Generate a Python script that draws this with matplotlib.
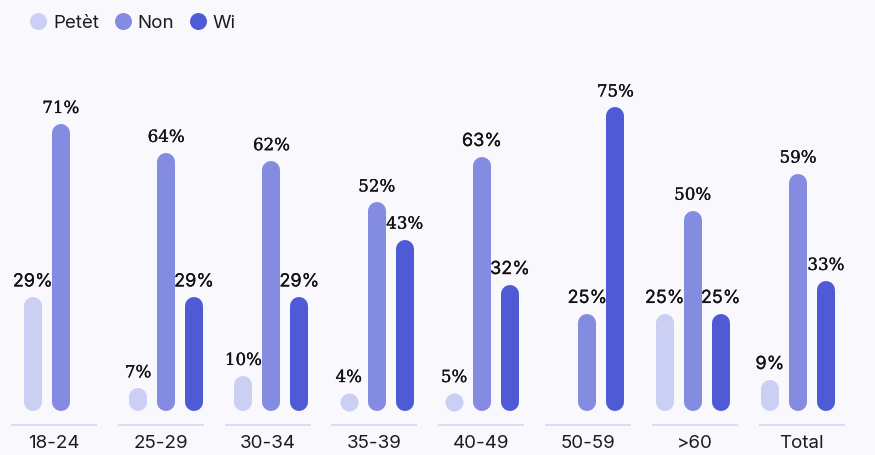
import matplotlib
matplotlib.use('Agg')
import matplotlib.pyplot as plt
from matplotlib.lines import Line2D
import matplotlib.transforms as mtransforms
import matplotlib.patheffects as pe

# ---------------- data ----------------
categories = ['18-24', '25-29', '30-34', '35-39', '40-49', '50-59', '>60', 'Total']
series = ['Petèt', 'Non', 'Wi']
petet = [29, 7, 10, 4, 5, None, 25, 9]
non = [71, 64, 62, 52, 63, 25, 50, 59]
wi = [None, 29, 29, 43, 32, 75, 25, 33]
values = [petet, non, wi]
colors = ['#cacff3', '#848ce2', '#4f5bd5']
# font used for each value label in the reference
label_fonts = [
    ['sans', 'serif', 'serif', 'serif', 'serif', None, 'sans', 'sans'],
    ['serif', 'serif', 'serif', 'serif', 'sans', 'sans', 'serif', 'serif'],
    [None, 'sans', 'sans', 'serif', 'sans', 'serif', 'sans', 'serif'],
]

# ---------------- figure ----------------
W, H, DPI = 875, 456, 100
bg = '#f8f8fd'
fig = plt.figure(figsize=(W / DPI, H / DPI), dpi=DPI)
fig.patch.set_facecolor(bg)
ax = fig.add_axes([0, 0, 1, 1])
ax.set_facecolor(bg)
ax.axis('off')

GROUP_PX = 106.8      # pixel distance between groups
X0_PX = 54            # pixel x of first group
ax.set_xlim(-X0_PX / GROUP_PX, (W - X0_PX) / GROUP_PX)
PX_PER_PCT = 4.13
BASE = 1.5
BASE_PX = 412
ax.set_ylim(BASE - (H - BASE_PX) / PX_PER_PCT, BASE + BASE_PX / PX_PER_PCT)

BAR_PX = 18
bar_lw = BAR_PX * 72 / DPI
r = (BAR_PX / 2) / PX_PER_PCT
min_h = BAR_PX / PX_PER_PCT
bar_step = 28 / GROUP_PX
bar_scale = 0.986
bar_shift = 0.063

fonts = {'serif': ['DejaVu Serif'], 'sans': ['Inter', 'DejaVu Sans']}
sizes = {'serif': 12, 'sans': 13}
effects = {'serif': [pe.withStroke(linewidth=0.2, foreground='#111111')],
           'sans': [pe.withStroke(linewidth=0.15, foreground='#111111')]}

for k, vals in enumerate(values):
    for i, v in enumerate(vals):
        if v is None:
            continue
        x = bar_shift + bar_scale * i + (k - 1) * bar_step
        top = max(v, BASE + min_h)
        if top - BASE > min_h + 1e-9:
            ax.plot([x, x], [BASE + r, top - r], color=colors[k], lw=bar_lw,
                    solid_capstyle='round', zorder=2)
        else:
            ax.plot([x], [BASE + r], marker='o', markersize=bar_lw,
                    color=colors[k], markeredgewidth=0, zorder=2)
        f = label_fonts[k][i]
        ax.annotate(f'{v}%', (x, top), xytext=(0, 11 * 72 / DPI),
                    textcoords='offset points', ha='center', va='baseline',
                    fontsize=sizes[f], family=fonts[f],
                    color='#111111', zorder=3, path_effects=effects[f])

trans = mtransforms.blended_transform_factory(ax.transData, ax.transAxes)
half = 43 / GROUP_PX
for i, c in enumerate(categories):
    ax.plot([i - half, i + half], [1 - 426 / H] * 2, color='#d8daf6', lw=1.3,
            transform=trans, solid_capstyle='butt', zorder=1)
    ax.text(i, 1 - 443.5 / H, c, transform=trans, ha='center', va='center',
            fontsize=13.5, family=['Inter', 'DejaVu Sans'], color='#1c1c1c')

handles = [Line2D([], [], marker='o', linestyle='none', markersize=17 * 72 / DPI,
                  markerfacecolor=col, markeredgewidth=0) for col in colors]
leg = ax.legend(handles, series, loc='upper left',
                bbox_to_anchor=(29.5 / W, 1 - 15 / H), bbox_transform=fig.transFigure,
                ncol=3, frameon=False, borderpad=0, borderaxespad=0,
                handlelength=0.93, handletextpad=0.32, columnspacing=0.8,
                prop={'family': ['Inter', 'DejaVu Sans'], 'size': 13.5})
for t in leg.get_texts():
    t.set_color('#1c1c1c')

fig.savefig('out.png', dpi=DPI, facecolor=bg)
